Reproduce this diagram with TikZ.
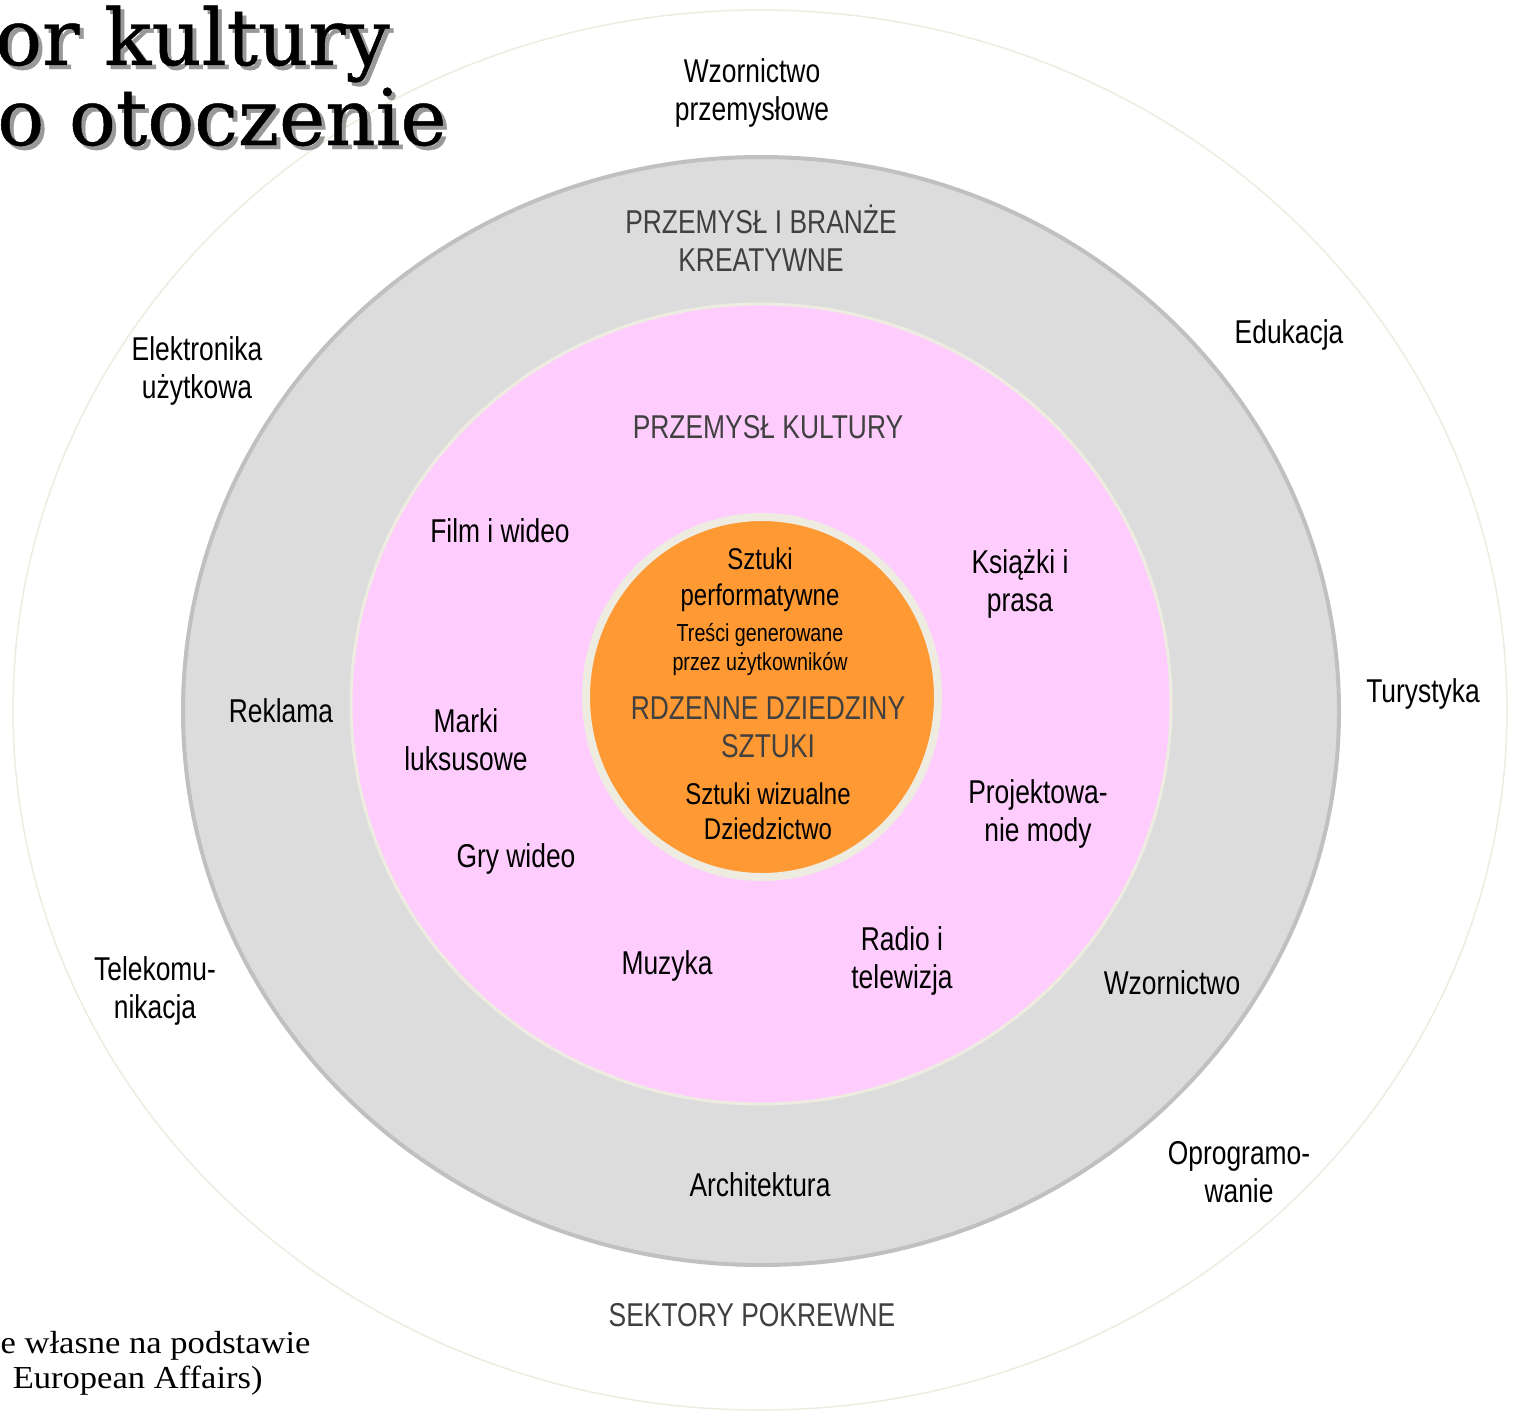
\documentclass[tikz,border=0pt]{standalone}
\usepackage{fontspec}
\usetikzlibrary{positioning}
\newfontfamily\diagfont[FakeStretch=0.8]{Liberation Sans}
\newfontfamily\titlefont[FakeBold=0.6]{DejaVu Serif}
\newfontfamily\notefont[FakeStretch=1.08]{Liberation Serif}
\definecolor{ringgray}{HTML}{DCDCDC}
\definecolor{ringline}{HTML}{C0C0C0}
\definecolor{cultpink}{HTML}{FECCFD}
\definecolor{corange}{HTML}{FE9934}
\definecolor{beige}{HTML}{EEECE1}
\definecolor{capgray}{HTML}{404040}
% text with a grey drop shadow
\newcommand{\shadowed}[1]{\makebox[0pt][l]{\hspace{2pt}\raisebox{-2pt}{\textcolor{black!40}{#1}}}#1}

\tikzset{
  sector/.style={font=\diagfont\fontsize{16.5}{19}\selectfont, align=center, inner sep=0pt},
  ringtitle/.style={sector, text=capgray},
  coretext/.style={font=\diagfont\fontsize{15}{18}\selectfont, align=center, inner sep=0pt},
  smallcore/.style={font=\diagfont\fontsize{12.3}{14.5}\selectfont, align=center, inner sep=0pt},
  headline/.style={font=\titlefont\fontsize{39}{39}\selectfont, anchor=base east, inner sep=0pt},
  source/.style={font=\notefont\fontsize{16}{18}\selectfont, anchor=base east, inner sep=0pt}
}

\begin{document}
\begin{tikzpicture}[x=0.5pt, y=-0.5pt]
  \useasboundingbox (0,0) rectangle (1513,1413);

  \def\outerring{(760,710) ellipse [x radius=747, y radius=700]}
  \def\creatring{(761,711) ellipse [x radius=578, y radius=554]}
  \def\cultring{(761,704) ellipse [x radius=410, y radius=400]}
  \def\corering{(762,697) ellipse [x radius=176, y radius=180]}

  % rings
  \draw[beige, line width=0.75pt, fill=white] \outerring;
  \draw[ringline, line width=2pt, fill=ringgray] \creatring;
  \draw[beige, line width=1.5pt, fill=cultpink] \cultring;
  \draw[beige, line width=4pt, fill=corange] \corering;

  % title
  \node[headline] (title1) at (390,65) {\shadowed{or kultury}};
  \node[headline] (title2) at (447,145) {\shadowed{o otoczenie}};

  % related sectors
  \node[sector] (wzprz) at (752,93) {Wzornictwo\\przemysłowe};
  \node[sector] (elektr) at (197,371) {Elektronika\\użytkowa};
  \node[sector] (eduk) at (1289,335) {Edukacja};
  \node[sector] (turyst) at (1423,694) {Turystyka};
  \node[sector] (telek) at (155,991) {Telekomu-\\nikacja};
  \node[sector] (oprog) at (1239,1172) {Oprogramo-\\wanie};
  \node[ringtitle] (pokrewne) at (752,1315) {SEKTORY POKREWNE};

  % creative industries
  \node[ringtitle] (kreat) at (761,238) {PRZEMYSŁ I BRANŻE\\KREATYWNE};
  \node[sector] (reklama) at (281,711) {Reklama};
  \node[sector] (wzorn) at (1172,983) {Wzornictwo};
  \node[sector] (archit) at (760,1185) {Architektura};

  % cultural industries
  \node[ringtitle] (kultura) at (768,427) {PRZEMYSŁ KULTURY};
  \node[sector] (film) at (500,531) {Film i wideo};
  \node[sector] (ksiazki) at (1020,584) {Książki i\\prasa};
  \node[sector] (marki) at (466,740) {Marki\\luksusowe};
  \node[sector] (moda) at (1038,814) {Projektowa-\\nie mody};
  \node[sector] (gry) at (516,859) {Gry wideo};
  \node[sector] (muzyka) at (667,966) {Muzyka};
  \node[sector] (radio) at (902,961) {Radio i\\telewizja};

  % core arts
  \node[coretext] (perform) at (760,580) {Sztuki\\performatywne};
  \node[smallcore] (tresci) at (760,649) {Treści generowane\\przez użytkowników};
  \node[coretext, font=\diagfont\fontsize{16.5}{19}\selectfont, text=capgray] (rdzen) at (768,727) {RDZENNE DZIEDZINY\\SZTUKI};
  \node[coretext] (wizual) at (768,794) {Sztuki wizualne};
  \node[coretext] (dziedz) at (768,829) {Dziedzictwo};

  % source note
  \node[source] (note1) at (311,1353) {e własne na podstawie};
  \node[source] (note2) at (263,1388) {European Affairs)};
\end{tikzpicture}
\end{document}
